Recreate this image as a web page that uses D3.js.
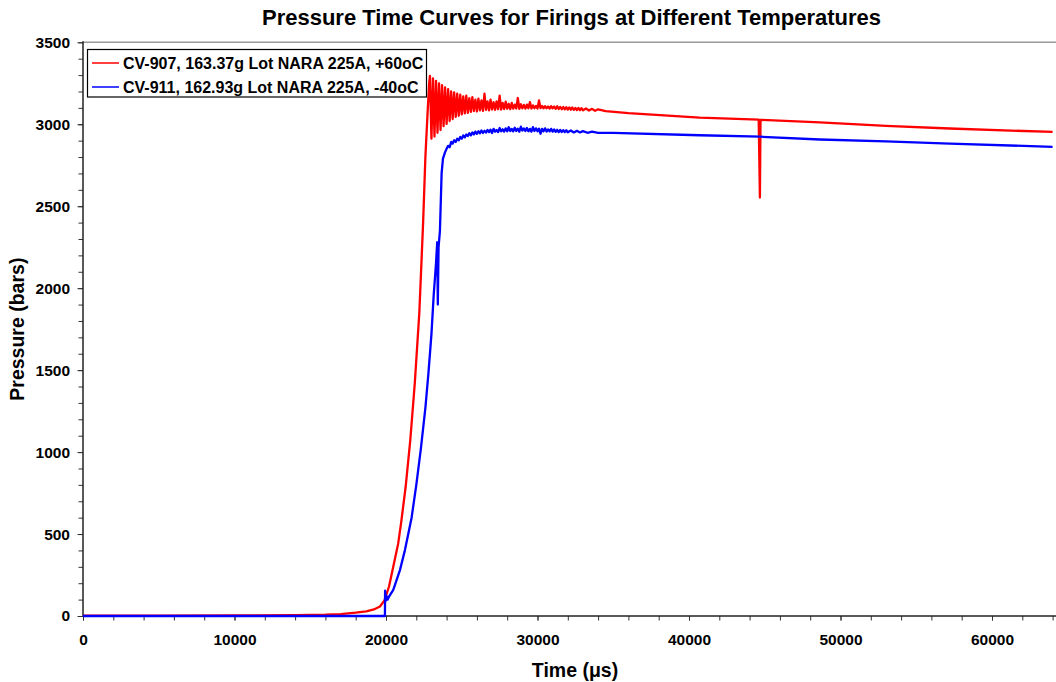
<!DOCTYPE html>
<html><head><meta charset="utf-8">
<script src="https://cdn.jsdelivr.net/npm/d3@7"></script>
<style>
body{margin:0;background:#fff}
svg{display:block}
text{font-family:"Liberation Sans",Arial,Helvetica,sans-serif;font-weight:bold;fill:#000}
</style>
</head><body>
<svg id="chart" width="1056" height="682"></svg>
<script>
// ---------- data ----------
const chartTitle = "Pressure Time Curves for Firings at Different Temperatures";
const xAxisTitle = "Time (\u03BCs)";
const yAxisTitle = "Pressure (bars)";
const xTickValues = [0, 10000, 20000, 30000, 40000, 50000, 60000];
const yTickValues = [0, 500, 1000, 1500, 2000, 2500, 3000, 3500];
const seriesNames = ["CV-907, 163.37g Lot NARA 225A, +60oC", "CV-911, 162.93g Lot NARA 225A, -40oC"];

// CV-907 (+60 oC): [time µs, pressure bars]
const hotRise = [
  [0,2],[5000,2],[10000,3],[14000,5],[16000,8],[17000,12],[18000,20],[18700,28],
  [19200,40],[19600,58],[19900,95],[20200,180],[20500,310],[20800,440],[21000,570],
  [21300,790],[21600,1070],[21900,1420],[22200,1850],[22450,2400],[22600,2800],[22750,3080],[22850,3250]
];
const hotOscillation = [
  [22900,3295],[23000,2912],[23100,3280],[23200,2925],[23300,3265],[23400,2948],[23500,3250],[23600,2965],
  [23700,3238],[23800,2988],[23900,3225],[24000,3002],[24100,3214],[24200,3020],[24300,3200],[24400,3032],
  [24500,3195],[24600,3045],[24700,3186],[24800,3052],[24900,3180],[25000,3060],[25100,3170],[25200,3066],
  [25300,3174],[25400,3070],[25500,3160],[25600,3075],[25700,3165],[25800,3080],[25900,3150],[26000,3078],
  [26100,3156],[26200,3085],[26300,3145],[26400,3082],[26500,3186],[26600,3088],[26700,3140],[26800,3085],
  [26900,3150],[27000,3090],[27100,3135],[27200,3088],[27300,3140],[27400,3092],[27500,3175],[27600,3090],
  [27700,3130],[27800,3093],[27900,3138],[28000,3095],[28100,3125],[28200,3092],[28300,3130],[28400,3095],
  [28500,3120],[28600,3096],[28700,3160],[28800,3094],[28900,3122],[29000,3097],[29100,3118],[29200,3095],
  [29300,3120],[29400,3098],[29500,3135],[29600,3096],[29700,3115],[29800,3098],[29900,3112],[30000,3096],
  [30100,3145],[30200,3098],[30300,3112],[30400,3097],[30500,3110],[30600,3098],[30700,3108],[30800,3096],
  [30900,3110],[31000,3097],[31100,3108],[31200,3094],[31300,3110],[31400,3093],[31500,3106],[31600,3092],
  [31700,3105],[31800,3091],[31900,3104],[32000,3090],[32100,3103],[32200,3089],[32300,3102],[32400,3088],
  [32500,3100],[32600,3087],[32700,3099],[32800,3086],[32900,3098],[33000,3085],[33200,3096],[33400,3084],
  [33600,3094],[33800,3082],[34000,3091]
];
const hotDecay = [
  [34500,3080],[36000,3068],[40700,3041],[44600,3028],[44680,2553],[44720,3027],
  [48640,3011],[53000,2990],[57220,2974],[64000,2953]
];

// CV-911 (-40 oC)
const coldRise = [
  [0,0],[10000,0],[19000,0],[19930,0],[19940,154],[20000,95],[20050,120],[20100,100],[20200,118],
  [20480,160],[20920,280],[21250,402],[21690,600],[22000,800],[22300,1020],[22600,1270],[22800,1480],
  [23000,1720],[23150,1960],[23300,2150],[23380,2280],[23420,1900],[23470,2250],[23560,2350],[23670,2700],
  [23760,2790],[23900,2830]
];
const coldNoise = [
  [24000,2850],[24100,2868],[24200,2860],[24300,2892],[24400,2882],[24500,2902],[24600,2892],[24700,2912],
  [24800,2902],[24900,2922],[25000,2912],[25100,2932],[25200,2920],[25300,2938],[25400,2928],[25500,2945],
  [25600,2932],[25700,2950],[25800,2938],[25900,2955],[26000,2942],[26100,2957],[26200,2945],[26300,2962],
  [26400,2947],[26500,2960],[26600,2949],[26700,2965],[26800,2952],[26900,2967],[27000,2947],[27100,2972],
  [27200,2955],[27300,2965],[27400,2952],[27500,2977],[27600,2957],[27700,2969],[27800,2955],[27900,2975],
  [28000,2957],[28100,2982],[28200,2959],[28300,2972],[28400,2957],[28500,2979],[28600,2959],[28700,2973],
  [28800,2955],[28900,2985],[29000,2962],[29100,2975],[29200,2959],[29300,2977],[29400,2957],[29500,2972],
  [29600,2955],[29700,2982],[29800,2959],[29900,2975],[30000,2957],[30100,2973],[30200,2942],[30300,2972],
  [30400,2957],[30500,2975],[30600,2955],[30700,2969],[30800,2957],[30900,2972],[31000,2955],[31100,2968],
  [31200,2954],[31300,2966],[31400,2952],[31500,2965],[31600,2953],[31700,2964],[31800,2952],[31900,2963],
  [32000,2951],[32200,2962],[32400,2950],[32600,2960],[32800,2950],[33000,2958],[33300,2948],[33600,2955],
  [34000,2947]
];
const coldDecay = [
  [35000,2948],[40700,2933],[44700,2924],[48640,2907],[53000,2895],[57220,2882],[64000,2862]
];

// ---------- layout / style ----------
const W = 1056, H = 682;
const plotLeft = 83, plotRight = 1052.6, plotTop = 42.3, plotBottom = 616;
const colors = ["#ff0000", "#0000ff"];

const svg = d3.select("#chart");
const x = d3.scaleLinear().domain([0, 64000]).range([plotLeft, plotRight]);
const y = d3.scaleLinear().domain([0, 3500]).range([plotBottom, plotTop]);

// plot frame: top border gray, extends to edge
svg.append("line").attr("x1", plotLeft).attr("x2", W).attr("y1", plotTop).attr("y2", plotTop)
  .attr("stroke", "#9a9a9a").attr("stroke-width", 1.6);

// clip
svg.append("clipPath").attr("id", "clip").append("rect")
  .attr("x", plotLeft).attr("y", plotTop - 2).attr("width", W - plotLeft).attr("height", plotBottom - plotTop + 4);

// Y axis (minor ticks every 100, labelled ticks every 500)
const yAxisG = svg.append("g").attr("transform", `translate(${plotLeft},0)`);
yAxisG.call(d3.axisLeft(y).tickValues(d3.range(0, 3501, 100)).tickSize(4.5).tickFormat(""));
yAxisG.select(".domain").remove();
yAxisG.selectAll(".tick line").attr("stroke", "#333").attr("stroke-width", 1);
const yLabG = svg.append("g").attr("transform", `translate(${plotLeft},0)`);
yLabG.call(d3.axisLeft(y).tickValues(yTickValues).tickSize(5.5).tickPadding(7.5).tickFormat(d3.format("d")));
yLabG.select(".domain").remove();
yLabG.selectAll(".tick line").attr("stroke", "#333");
yLabG.selectAll("text").style("font-size", "15.5px").attr("font-family", null);

// X axis (minor ticks every 2000)
const xAxisG = svg.append("g").attr("transform", `translate(0,${plotBottom})`);
xAxisG.call(d3.axisBottom(x).tickValues(d3.range(0, 64001, 2000)).tickSize(4.5).tickFormat(""));
xAxisG.select(".domain").remove();
xAxisG.selectAll(".tick line").attr("stroke", "#333");
const xLabG = svg.append("g").attr("transform", `translate(0,${plotBottom})`);
xLabG.call(d3.axisBottom(x).tickValues(xTickValues).tickSize(4.5).tickPadding(13).tickFormat(d3.format("d")));
xLabG.select(".domain").remove();
xLabG.selectAll(".tick line").attr("stroke", "#333");
xLabG.selectAll("text").style("font-size", "15.5px").attr("font-family", null);

// axis lines
svg.append("line").attr("x1", plotLeft).attr("x2", plotLeft).attr("y1", plotTop - 1).attr("y2", plotBottom)
  .attr("stroke", "#222").attr("stroke-width", 1.5);
svg.append("line").attr("x1", plotLeft).attr("x2", W).attr("y1", plotBottom).attr("y2", plotBottom)
  .attr("stroke", "#222").attr("stroke-width", 1.5);

// series
const line = d3.line().x(d => x(d[0])).y(d => y(d[1]));
const hot = hotRise.concat(hotOscillation, hotDecay);
const cold = coldRise.concat(coldNoise, coldDecay);
const plotG = svg.append("g").attr("clip-path", "url(#clip)");
[hot, cold].forEach((data, i) => {
  plotG.append("path").datum(data).attr("d", line)
    .attr("fill", "none").attr("stroke", colors[i]).attr("stroke-width", 2.3)
    .attr("stroke-linejoin", "round");
});

// legend
const leg = svg.append("g");
leg.append("rect").attr("x", 87.5).attr("y", 49.5).attr("width", 339).attr("height", 47.5)
  .attr("fill", "#fff").attr("stroke", "#000").attr("stroke-width", 1.2);
seriesNames.forEach((name, i) => {
  const ly = 63 + i * 24;
  leg.append("line").attr("x1", 92).attr("x2", 119).attr("y1", ly).attr("y2", ly)
    .attr("stroke", colors[i]).attr("stroke-width", 1.5);
  leg.append("text").attr("x", 123).attr("y", ly).attr("dy", "0.36em")
    .style("font-size", "16px").text(name);
});

// titles
svg.append("text").attr("x", 571.5).attr("y", 25).attr("text-anchor", "middle")
  .style("font-size", "22px").text(chartTitle);
svg.append("text").attr("x", 575).attr("y", 677).attr("text-anchor", "middle")
  .style("font-size", "19.5px").text(xAxisTitle);
svg.append("text").attr("transform", `translate(24,${(plotTop + plotBottom) / 2}) rotate(-90)`)
  .attr("text-anchor", "middle").style("font-size", "19.5px").text(yAxisTitle);
</script>
</body></html>
